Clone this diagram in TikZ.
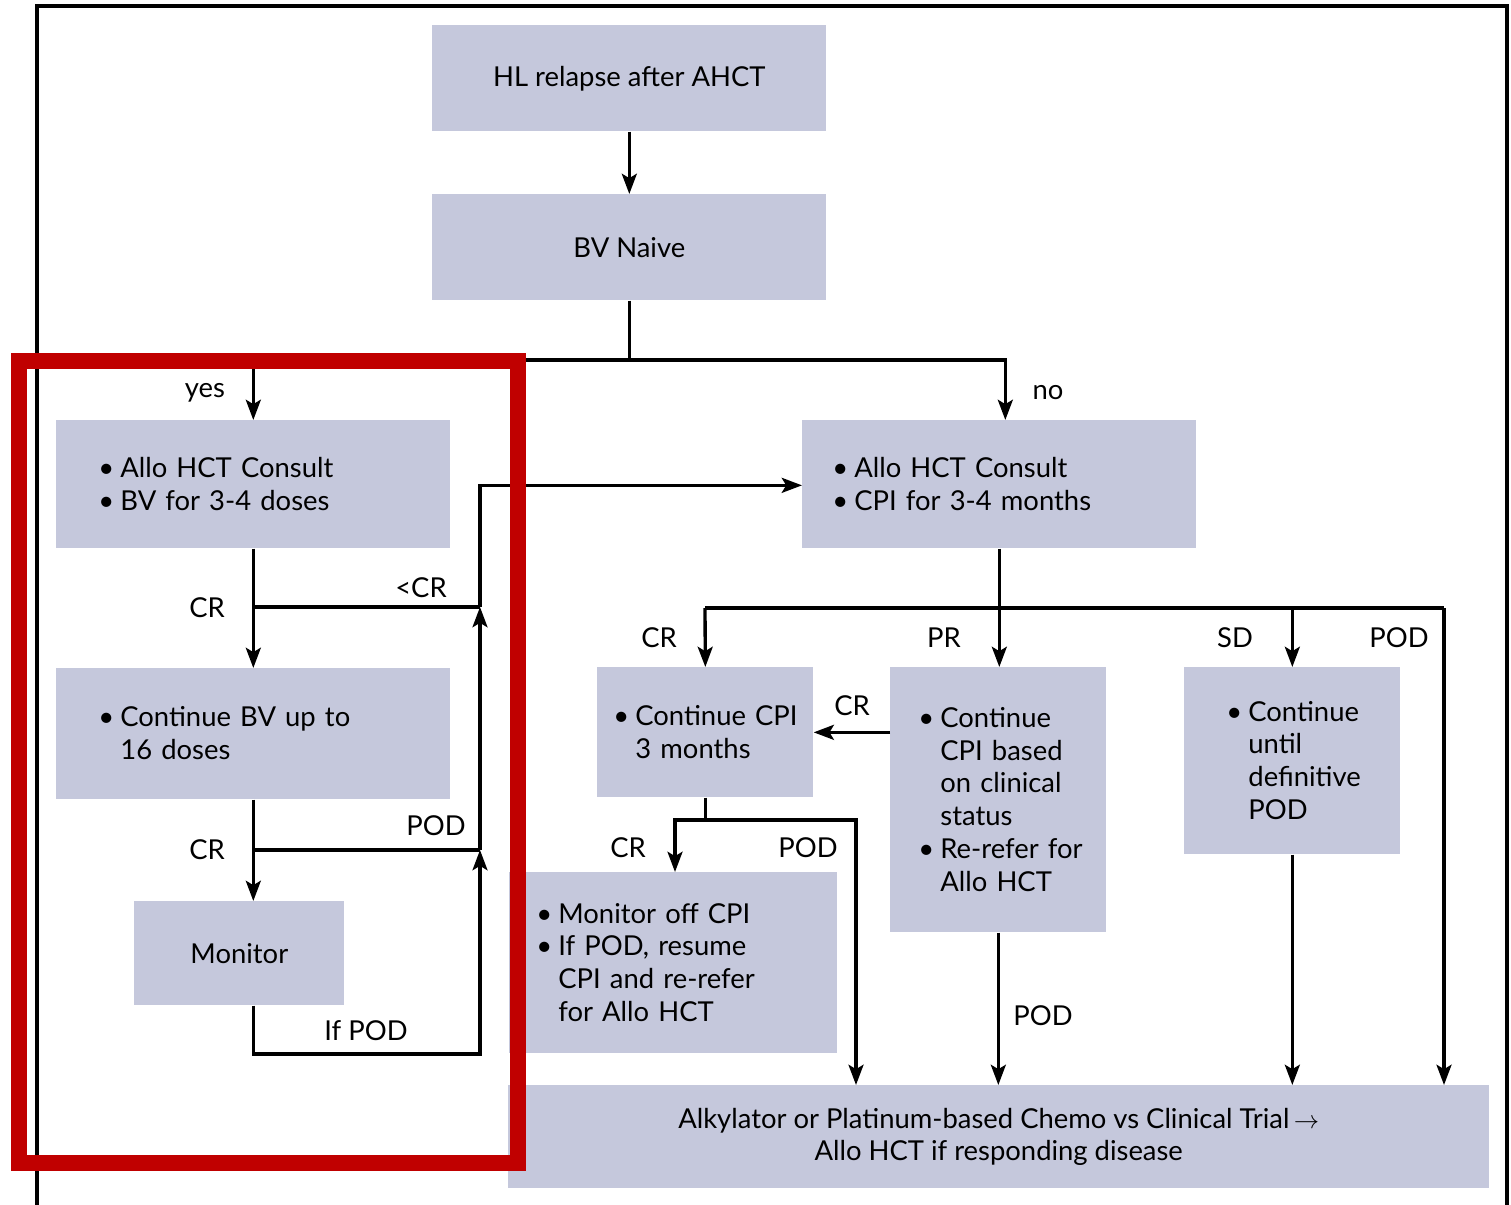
\documentclass[tikz,border=0pt]{standalone}
\usepackage{fontspec}
\setmainfont{Lato}
\usetikzlibrary{arrows.meta,calc}
\definecolor{boxfill}{RGB}{197,200,220}
\definecolor{framered}{RGB}{192,0,0}
% bullet list set as a two-column tabular; the rule adds a little room on top
\newcommand{\blist}[1]{\begin{tabular}{@{}l@{\hspace{3.5pt}}l@{}}\rule{0pt}{16.5pt}#1\end{tabular}}
\begin{document}
\begin{tikzpicture}[x=0.02cm,y=-0.02cm,
  txt/.style={font=\fontsize{15.6}{18.7}\selectfont},
  box/.style={txt, fill=boxfill, anchor=north west, inner ysep=0pt},
  cbox/.style={box, align=center, inner xsep=0pt},
  lbox/.style={box, align=left},
  lbl/.style={txt, inner sep=0pt},
  line/.style={line width=1.9pt},
  arr/.style={line, -{Stealth[length=11.5pt,width=8.5pt,inset=2.5pt]}}]
\useasboundingbox (0,0) rectangle (1511,1204);

% outer frame (open at the bottom)
\draw[line width=1.9pt] (37,1210) -- (37,6) -- (1507,6) -- (1507,1210);

% boxes
\node[cbox, minimum width=7.88cm, minimum height=2.12cm] (relapse) at (432,25) {HL relapse after AHCT};
\node[cbox, minimum width=7.88cm, minimum height=2.12cm] (naive) at (432,194) {BV Naive};
\node[lbox, text width=6.2cm, inner xsep=0.84cm, minimum height=2.56cm] (bvc) at (56,420)
  {\blist{\textbullet & Allo HCT Consult\\ \textbullet & BV for 3-4 doses}};
\node[lbox, text width=6.68cm, inner xsep=0.6cm, minimum height=2.56cm] (cpic) at (802,420)
  {\blist{\textbullet & Allo HCT Consult\\ \textbullet & CPI for 3-4 months}};
\node[lbox, text width=6.2cm, inner xsep=0.84cm, minimum height=2.62cm] (cont) at (56,668)
  {\blist{\textbullet & Continue BV up to\\ & 16 doses}};
\node[cbox, minimum width=4.2cm, minimum height=2.08cm] (mon) at (134,901) {Monitor};
\node[lbox, text width=3.68cm, inner xsep=0.32cm, minimum height=2.6cm] (ccpi) at (597,667)
  {\blist{\textbullet & Continue CPI\\ & 3 months}};
\node[lbox, text width=3.2cm, inner xsep=0.56cm, minimum height=5.3cm] (cbased) at (890,667)
  {\blist{\textbullet & Continue\\ & CPI based\\ & on clinical\\ & status\\ \textbullet & Re-refer for\\ & Allo HCT}};
\node[lbox, text width=2.64cm, inner xsep=0.84cm, minimum height=3.74cm] (until) at (1184,667)
  {\blist{\textbullet & Continue\\ & until\\ & definitive\\ & POD}};
\node[lbox, text width=5.48cm, inner xsep=0.54cm, minimum height=3.62cm] (moff) at (509,872)
  {\blist{\textbullet & Monitor off CPI\\ \textbullet & If POD, resume\\ & CPI and re-refer\\ & for Allo HCT}};
\node[cbox, minimum width=19.62cm, minimum height=2.06cm] (chemo) at (508,1085)
  {Alkylator or Platinum-based Chemo vs Clinical Trial\,$\rightarrow$\\ Allo HCT if responding disease};

% junction points
\coordinate (split) at (629,360);
\coordinate (jA) at (480,607);
\coordinate (jB) at (480,850);
\coordinate (jC) at (480,1054);
\coordinate (hl) at (705,608);
\coordinate (hr) at (1444,608);
\coordinate (ml) at (675,820);
\coordinate (mr) at (856,820);

% top part
\draw[arr] (relapse) -- (naive);
\draw[line] (naive.south) -- (naive.south |- split) -- (split);
\draw[arr] (split) -| (bvc.north);
\draw[arr] (split) -| ($(cpic.north)+(6,0)$);

% BV branch
\draw[arr] (bvc.south) -- (bvc.south |- cont.north);
\draw[line] (jA -| bvc.south) -- (jA);
\draw[arr] (cont.south) -- (mon.north -| cont.south);
\draw[line] (jB -| cont.south) -- (jB);
\draw[arr] (mon.south -| cont.south) |- (jC) -- (jB);
\draw[arr] (jB) -- (jA);
\draw[arr] (jA) |- ($(cpic.west)+(0,1)$);

% CPI branch
\draw[arr] (cpic.south) -- (cpic.south |- cbased.north);
\draw[line] (hl) -- (hr);
\draw[arr] (hl) -- (ccpi.north);
\draw[arr] (until.north |- hl) -- (until.north);
\draw[arr] (hr) -- (chemo.north -| hr);
\draw[arr] (ccpi.east -| cbased.west) -- (ccpi.east);
\draw[arr] (ccpi.south) |- (ml) -- (moff.north -| ml);
\draw[arr] (ccpi.south |- ml) -- (mr) -- (chemo.north -| mr);
\draw[arr] (cbased.south) -- (cbased.south |- chemo.north);
\draw[arr] (until.south) -- (until.south |- chemo.north);

% branch labels
\node[lbl] (lyes) at (205,393) {yes};
\node[lbl] (lno) at (1048,393) {no};
\node[lbl] (lcr1) at (207,608) {CR};
\node[lbl] (lltcr) at (421,588) {<CR};
\node[lbl] (lcr2) at (207,850) {CR};
\node[lbl] (lpod1) at (436,826) {POD};
\node[lbl] (lifpod) at (366,1031) {If POD};
\node[lbl] (lcr3) at (659,638) {CR};
\node[lbl] (lpr) at (944,638) {PR};
\node[lbl] (lsd) at (1235,638) {SD};
\node[lbl] (lpod2) at (1399,638) {POD};
\node[lbl] (lcr4) at (852,706) {CR};
\node[lbl] (lcr5) at (628,848) {CR};
\node[lbl] (lpod3) at (808,848) {POD};
\node[lbl] (lpod4) at (1043,1016) {POD};

% highlight frame around the BV-naive branch
\draw[framered, line width=9.07pt] (19,361) rectangle (518,1163);
\end{tikzpicture}
\end{document}
